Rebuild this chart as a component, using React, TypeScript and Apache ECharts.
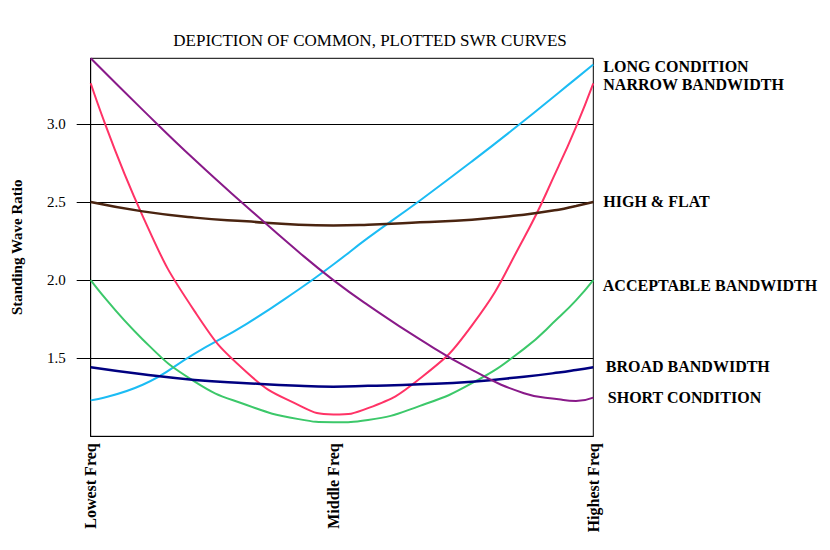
import React, { useEffect, useRef } from "react";
import * as echarts from "echarts";

// x positions (0 = lowest freq, 29 = highest freq)
const xPositions = [0, 3, 6, 9, 12, 14, 16, 19, 22, 25, 27, 28, 29];
const freqPositions = [0, 14, 29];
const freqLabels = ["Lowest Freq", "Middle Freq", "Highest Freq"];
const yTickValues = [1.5, 2.0, 2.5, 3.0];

const seriesNames = [
  "LONG CONDITION",
  "NARROW BANDWIDTH",
  "HIGH & FLAT",
  "ACCEPTABLE BANDWIDTH",
  "BROAD BANDWIDTH",
  "SHORT CONDITION",
];

const longCondition = [1.23, 1.33, 1.53, 1.72, 1.94, 2.1, 2.27, 2.51, 2.76, 3.02, 3.2, 3.29, 3.38];
const narrowBandwidth = [3.26, 2.41, 1.8, 1.41, 1.2, 1.14, 1.18, 1.37, 1.71, 2.27, 2.73, 2.98, 3.26];
const highAndFlat = [2.5, 2.44, 2.4, 2.376, 2.355, 2.35, 2.355, 2.37, 2.387, 2.419, 2.451, 2.475, 2.5];
const acceptableBandwidth = [2.0, 1.62, 1.35, 1.2, 1.11, 1.09, 1.105, 1.195, 1.34, 1.56, 1.76, 1.87, 2.0];
const broadBandwidth = [1.442, 1.397, 1.361, 1.34, 1.323, 1.318, 1.323, 1.333, 1.35, 1.382, 1.408, 1.424, 1.442];
const shortCondition = [3.42, 3.09, 2.77, 2.47, 2.18, 2.0, 1.84, 1.62, 1.425, 1.276, 1.237, 1.226, 1.248];

const seriesValues = [
  longCondition,
  narrowBandwidth,
  highAndFlat,
  acceptableBandwidth,
  broadBandwidth,
  shortCondition,
];
const seriesColors = ["#1cbcf4", "#ff3366", "#4a2410", "#3cc86a", "#000080", "#891a89"];
const lineWidths = [2, 2, 2.5, 2, 2.5, 2];
const labelOffsets = [
  [0, 2],
  [0, 1],
  [0, -1],
  [-0.5, 5],
  [2.5, -1],
  [4.5, 0],
];

const serif = "'Liberation Serif', 'Times New Roman', serif";

export default function App() {
  const ref = useRef<HTMLDivElement>(null);
  useEffect(() => {
    if (!ref.current) return;
    const chart = echarts.init(ref.current, null, { renderer: "svg" });
    chart.setOption({
      animation: false,
      backgroundColor: "#ffffff",
      title: {
        text: "DEPICTION OF COMMON, PLOTTED SWR CURVES",
        left: 365,
        top: 27,
        textAlign: "center",
        textStyle: { fontFamily: serif, fontSize: 17, fontWeight: "normal", color: "#000" },
      },
      grid: {
        left: 90.7,
        right: 236.7,
        top: 58.3,
        bottom: 113.7,
        show: true,
        borderColor: "#000",
        borderWidth: 1,
        containLabel: false,
      },
      xAxis: {
        type: "value",
        min: 0,
        max: 29,
        axisLine: { show: true, lineStyle: { color: "#000", width: 1 } },
        axisTick: { show: false },
        splitLine: { show: false },
        axisLabel: {
          customValues: freqPositions,
          rotate: 90,
          margin: 7,
          formatter: (v: number) => freqLabels[freqPositions.indexOf(v)] ?? "",
          fontFamily: serif,
          fontSize: 16,
          fontWeight: "bold",
          color: "#000",
        },
      },
      yAxis: {
        type: "value",
        min: 1,
        max: 3.42,
        name: "Standing Wave Ratio",
        nameLocation: "middle",
        nameGap: 66,
        nameRotate: 90,
        nameTextStyle: { fontFamily: serif, fontSize: 15, fontWeight: "bold", color: "#000" },
        axisLine: { show: true, lineStyle: { color: "#000", width: 1 } },
        axisTick: {
          show: true,
          customValues: yTickValues,
          length: 14,
          lineStyle: { color: "#000", width: 1 },
        },
        splitLine: { show: true, lineStyle: { color: "#000", width: 1 } },
        axisLabel: {
          customValues: yTickValues,
          margin: 25,
          formatter: (v: number) => v.toFixed(1),
          fontFamily: serif,
          fontSize: 15,
          color: "#000",
        },
      },
      series: seriesNames.map((name, i) => ({
        name,
        type: "line",
        smooth: true,
        symbol: "none",
        data: xPositions.map((x, j) => [x, seriesValues[i][j]]),
        lineStyle: { color: seriesColors[i], width: lineWidths[i] },
        itemStyle: { color: seriesColors[i] },
        endLabel: {
          show: true,
          formatter: "{a}",
          distance: 10,
          offset: labelOffsets[i],
          fontFamily: serif,
          fontSize: 16,
          fontWeight: "bold",
          color: "#000",
        },
      })),
    });
    return () => chart.dispose();
  }, []);
  return (
    <div
      ref={ref}
      style={{ position: "fixed", left: 0, top: 0, width: 830, height: 550 }}
    />
  );
}
